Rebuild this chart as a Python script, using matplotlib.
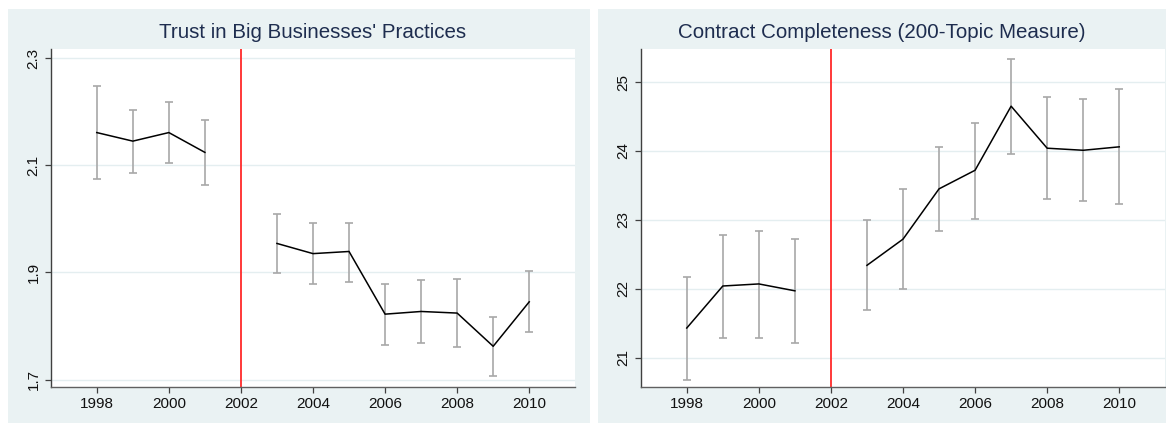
import numpy as np
import matplotlib
matplotlib.use("Agg")
import matplotlib.pyplot as plt
from matplotlib.patches import Rectangle

plt.rcParams["font.family"] = ["Liberation Sans", "DejaVu Sans"]

years_pre = [1998, 1999, 2000, 2001]
years_post = [2003, 2004, 2005, 2006, 2007, 2008, 2009, 2010]

# Trust in big businesses' practices
trust_pre = [2.161, 2.145, 2.161, 2.124]
trust_pre_hi = [2.247, 2.204, 2.218, 2.185]
trust_pre_lo = [2.074, 2.086, 2.104, 2.063]
trust_post = [1.954, 1.935, 1.939, 1.822, 1.827, 1.824, 1.762, 1.845]
trust_post_hi = [2.009, 1.992, 1.993, 1.879, 1.885, 1.887, 1.816, 1.903]
trust_post_lo = [1.899, 1.878, 1.882, 1.764, 1.769, 1.761, 1.706, 1.788]

# Contract completeness (200-topic measure)
cc_pre = [21.43, 22.04, 22.07, 21.97]
cc_pre_hi = [22.17, 22.78, 22.84, 22.72]
cc_pre_lo = [20.68, 21.29, 21.29, 21.21]
cc_post = [22.34, 22.72, 23.45, 23.72, 24.65, 24.04, 24.01, 24.06]
cc_post_hi = [23.00, 23.45, 24.06, 24.41, 25.34, 24.78, 24.75, 24.90]
cc_post_lo = [21.69, 21.99, 22.84, 23.01, 23.95, 23.30, 23.27, 23.23]

W, H = 1166, 423
bg = "#EAF2F3"
title_col = "#1E2D4F"

fig = plt.figure(figsize=(W / 100, H / 100), dpi=100)

# panel backgrounds (pixel coords -> figure fraction)
for x0, x1 in [(8, 590), (598, 1170)]:
    fig.patches.append(Rectangle((x0 / W, 0), (x1 - x0) / W, 1 - 9 / H,
                                 transform=fig.transFigure, facecolor=bg,
                                 edgecolor="none", zorder=-5))


def panel(px0, px1, title, pre, pre_hi, pre_lo, post, post_hi, post_lo,
          ylim, yticks, yticklabels, title_x):
    ax = fig.add_axes([px0 / W, 1 - 387 / H, (px1 - px0) / W, (387 - 49) / H])
    ax.set_zorder(1)
    ax.set_facecolor("white")
    for yrs, v, hi, lo in [(years_pre, pre, pre_hi, pre_lo),
                           (years_post, post, post_hi, post_lo)]:
        v = np.array(v)
        err = [v - np.array(lo), np.array(hi) - v]
        ax.errorbar(yrs, v, yerr=err, fmt="none", ecolor="#A8A8A8",
                    elinewidth=1.2, capsize=3.2, capthick=1.2, zorder=2)
        ax.plot(yrs, v, color="black", lw=1.1, zorder=3)
    ax.axvline(2002, color="#FF2A2A", lw=1.3, zorder=2)
    ax.set_xlim(1996.73, 2011.27)
    ax.set_ylim(*ylim)
    ax.set_xticks(range(1998, 2011, 2))
    ax.set_yticks(yticks)
    ax.set_yticklabels(yticklabels, rotation=90, va="center")
    ax.grid(axis="y", color="#E4EEF0", lw=1.0, zorder=0)
    ax.set_axisbelow(True)
    for s in ["top", "right"]:
        ax.spines[s].set_visible(False)
    ax.spines["left"].set_color("#404040")
    ax.spines["bottom"].set_color("#606060")
    ax.spines["left"].set_linewidth(1.0)
    ax.spines["bottom"].set_linewidth(1.0)
    ax.tick_params(axis="both", labelsize=11, color="#404040", length=4,
                   width=0.9, labelcolor="#111111")
    fig.text(title_x / W, 1 - 33 / H, title, ha="center", va="center",
             fontsize=14.8, color=title_col, zorder=2)
    return ax


panel(51, 575, "Trust in Big Businesses' Practices",
      trust_pre, trust_pre_hi, trust_pre_lo,
      trust_post, trust_post_hi, trust_post_lo,
      (1.686, 2.317), [1.7, 1.9, 2.1, 2.3], ["1.7", "1.9", "2.1", "2.3"], 313)
panel(641, 1165, "Contract Completeness (200-Topic Measure)",
      cc_pre, cc_pre_hi, cc_pre_lo,
      cc_post, cc_post_hi, cc_post_lo,
      (20.574, 25.48), [21, 22, 23, 24, 25], ["21", "22", "23", "24", "25"], 882)

fig.savefig("out.png", dpi=100)
